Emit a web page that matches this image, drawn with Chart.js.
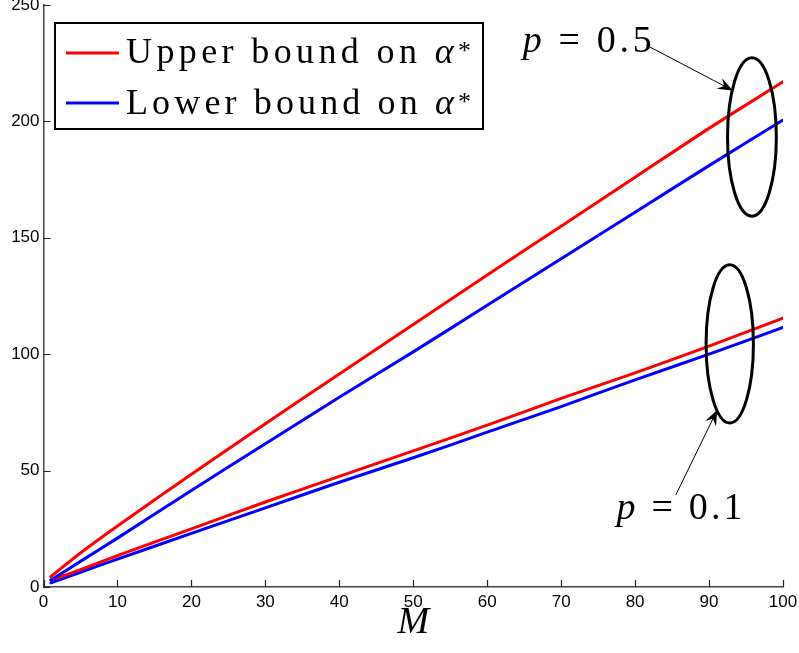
<!DOCTYPE html>
<html>
<head>
<meta charset="utf-8">
<script src="https://cdn.jsdelivr.net/npm/chart.js@4"></script>
<style>
  html, body { margin: 0; padding: 0; background: #fff; }
  #wrap { width: 799px; height: 653px; position: relative; }
</style>
</head>
<body>
<div id="wrap"><canvas id="c"></canvas></div>
<script>
// values
const mValues   = [1, 5, 10, 20, 30, 40, 50, 60, 70, 80, 90, 100];
const upperP05  = [4.5, 14.6, 26.2, 48.4, 70.1, 91.5, 112.8, 134, 155, 176, 197, 217];
const lowerP05  = [3.0, 11, 21, 41.5, 61.5, 81.5, 101, 121, 141, 161, 181, 200.6];
const upperP01  = [3.0, 7.5, 13.5, 25, 36.5, 47.5, 58.5, 69.5, 81, 92, 103.5, 115.5];
const lowerP01  = [1.8, 6.3, 12, 23, 34, 45, 55.5, 66.5, 77.5, 89, 100, 111.5];
const legendLabels = ["Upper bound on ", "Lower bound on "];
const xTicks = [0, 10, 20, 30, 40, 50, 60, 70, 80, 90, 100];
const yTicks = [0, 50, 100, 150, 200, 250];

const RED = "#ff0000";
const BLUE = "#0000ff";
const SERIF = "'Liberation Serif', 'DejaVu Serif', serif";
const SANS = "'Liberation Sans', Helvetica, Arial, sans-serif";

const pts = arr => mValues.map((m, i) => ({ x: m, y: arr[i] }));

function line(label, arr, color) {
  return {
    label: label,
    data: pts(arr),
    borderColor: color,
    backgroundColor: color,
    borderWidth: 3,
    borderCapStyle: "round",
    pointRadius: 0,
    tension: 0.3,
    fill: false
  };
}

// draw text pieces stretched with letter spacing to a given width
function spacedText(ctx, parts, x, y, width) {
  let natural = 0, chars = 0;
  ctx.letterSpacing = "0px";
  parts.forEach(p => {
    ctx.font = p.font;
    natural += ctx.measureText(p.text).width;
    chars += p.text.length;
  });
  const sp = Math.max(0, (width - natural) / Math.max(1, chars - 1));
  ctx.letterSpacing = sp + "px";
  let cx = x;
  parts.forEach(p => {
    ctx.font = p.font;
    ctx.fillText(p.text, cx, y + (p.dy || 0));
    cx += ctx.measureText(p.text).width;
  });
  ctx.letterSpacing = "0px";
}

function arrow(ctx, x1, y1, x2, y2) {
  ctx.beginPath();
  ctx.moveTo(x1, y1);
  ctx.lineTo(x2, y2);
  ctx.lineWidth = 1;
  ctx.stroke();
  const a = Math.atan2(y2 - y1, x2 - x1);
  const len = 15, w = 6;
  ctx.save();
  ctx.translate(x2, y2);
  ctx.rotate(a);
  ctx.beginPath();
  ctx.moveTo(0, 0);
  ctx.lineTo(-len, -w);
  ctx.lineTo(-len * 0.65, 0);
  ctx.lineTo(-len, w);
  ctx.closePath();
  ctx.fill();
  ctx.restore();
}

const extras = {
  id: "extras",
  afterDatasetsDraw(chart) {
    const { ctx, scales: { x, y } } = chart;
    ctx.save();
    ctx.fillStyle = "#000";

    // inward tick marks
    ctx.strokeStyle = "#222";
    ctx.lineWidth = 1.2;
    ctx.beginPath();
    xTicks.forEach(t => {
      const px = Math.round(x.getPixelForValue(t)) + 0.5;
      ctx.moveTo(px, y.bottom);
      ctx.lineTo(px, y.bottom - 7);
    });
    yTicks.forEach(t => {
      const py = Math.round(y.getPixelForValue(t)) + 0.5;
      ctx.moveTo(x.left, py);
      ctx.lineTo(x.left + 7, py);
    });
    ctx.stroke();

    // ellipses
    ctx.strokeStyle = "#000";
    ctx.lineWidth = 3;
    const ell = (cm, cv, rm, rv) => {
      const cx = x.getPixelForValue(cm), cy = y.getPixelForValue(cv);
      const rx = x.getPixelForValue(cm + rm) - cx;
      const ry = cy - y.getPixelForValue(cv + rv);
      ctx.beginPath();
      ctx.ellipse(cx, cy, rx, ry, 0, 0, Math.PI * 2);
      ctx.stroke();
    };
    ell(95.8, 193.3, 3.3, 34);
    ell(92.8, 104.4, 3.2, 34);

    // arrows
    arrow(ctx, x.getPixelForValue(81.5), y.getPixelForValue(232.8),
               x.getPixelForValue(93.2), y.getPixelForValue(213.3));
    arrow(ctx, x.getPixelForValue(85.5), y.getPixelForValue(39.5),
               x.getPixelForValue(91.1), y.getPixelForValue(76));

    // p labels
    ctx.textBaseline = "alphabetic";
    ctx.textAlign = "left";
    spacedText(ctx, [
      { text: "p", font: "italic 38px " + SERIF },
      { text: " = 0.5", font: "38px " + SERIF }
    ], x.getPixelForValue(64.8), y.getPixelForValue(229.8), 129);
    spacedText(ctx, [
      { text: "p", font: "italic 38px " + SERIF },
      { text: " = 0.1", font: "38px " + SERIF }
    ], x.getPixelForValue(77.5), y.getPixelForValue(29.4), 126);

    // legend box
    ctx.fillStyle = "#fff";
    ctx.fillRect(55, 23, 428, 106);
    ctx.lineWidth = 2;
    ctx.strokeStyle = "#000";
    ctx.strokeRect(55, 23, 428, 106);
    const rows = [
      { color: RED, ly: 53, by: 63, label: legendLabels[0] },
      { color: BLUE, ly: 103, by: 113.5, label: legendLabels[1] }
    ];
    rows.forEach(r => {
      ctx.strokeStyle = r.color;
      ctx.lineWidth = 3;
      ctx.beginPath();
      ctx.moveTo(66, r.ly);
      ctx.lineTo(119, r.ly);
      ctx.stroke();
      ctx.fillStyle = "#000";
      spacedText(ctx, [
        { text: r.label, font: "36px " + SERIF },
        { text: "α", font: "italic 36px " + SERIF },
        { text: "*", font: "26px " + SERIF, dy: -4 }
      ], 126, r.by, 345);
    });
    ctx.restore();
  }
};

new Chart(document.getElementById("c"), {
  type: "line",
  data: {
    datasets: [
      line("Upper bound, p = 0.5", upperP05, RED),
      line("Lower bound, p = 0.5", lowerP05, BLUE),
      line("Upper bound, p = 0.1", upperP01, RED),
      line("Lower bound, p = 0.1", lowerP01, BLUE)
    ]
  },
  options: {
    responsive: true,
    maintainAspectRatio: false,
    animation: false,
    layout: { padding: { left: 0, right: 16, top: 5, bottom: 0 } },
    plugins: {
      legend: { display: false },
      tooltip: { enabled: false }
    },
    scales: {
      x: {
        type: "linear",
        min: 0,
        max: 100,
        afterBuildTicks: s => { s.ticks = xTicks.map(v => ({ value: v })); },
        afterFit: s => { s.height = 66; s.paddingLeft = 0; s.paddingRight = 0; },
        ticks: { color: "#000", font: { family: SANS, size: 17 }, padding: 5, maxRotation: 0 },
        grid: { display: false, drawTicks: false },
        border: { display: true, color: "#444", width: 1.5 },
        title: {
          display: true,
          text: "M",
          color: "#000",
          font: { family: SERIF, size: 38, style: "italic" },
          padding: { top: 0, bottom: 7 }
        }
      },
      y: {
        type: "linear",
        min: 0,
        max: 250,
        afterBuildTicks: s => { s.ticks = yTicks.map(v => ({ value: v })); },
        afterFit: s => { s.width = 43.5; s.paddingTop = 0; s.paddingBottom = 0; },
        ticks: { color: "#000", font: { family: SANS, size: 17 }, padding: 4 },
        grid: { display: false, drawTicks: false },
        border: { display: true, color: "#444", width: 1.5 }
      }
    }
  },
  plugins: [extras]
});
</script>
</body>
</html>
